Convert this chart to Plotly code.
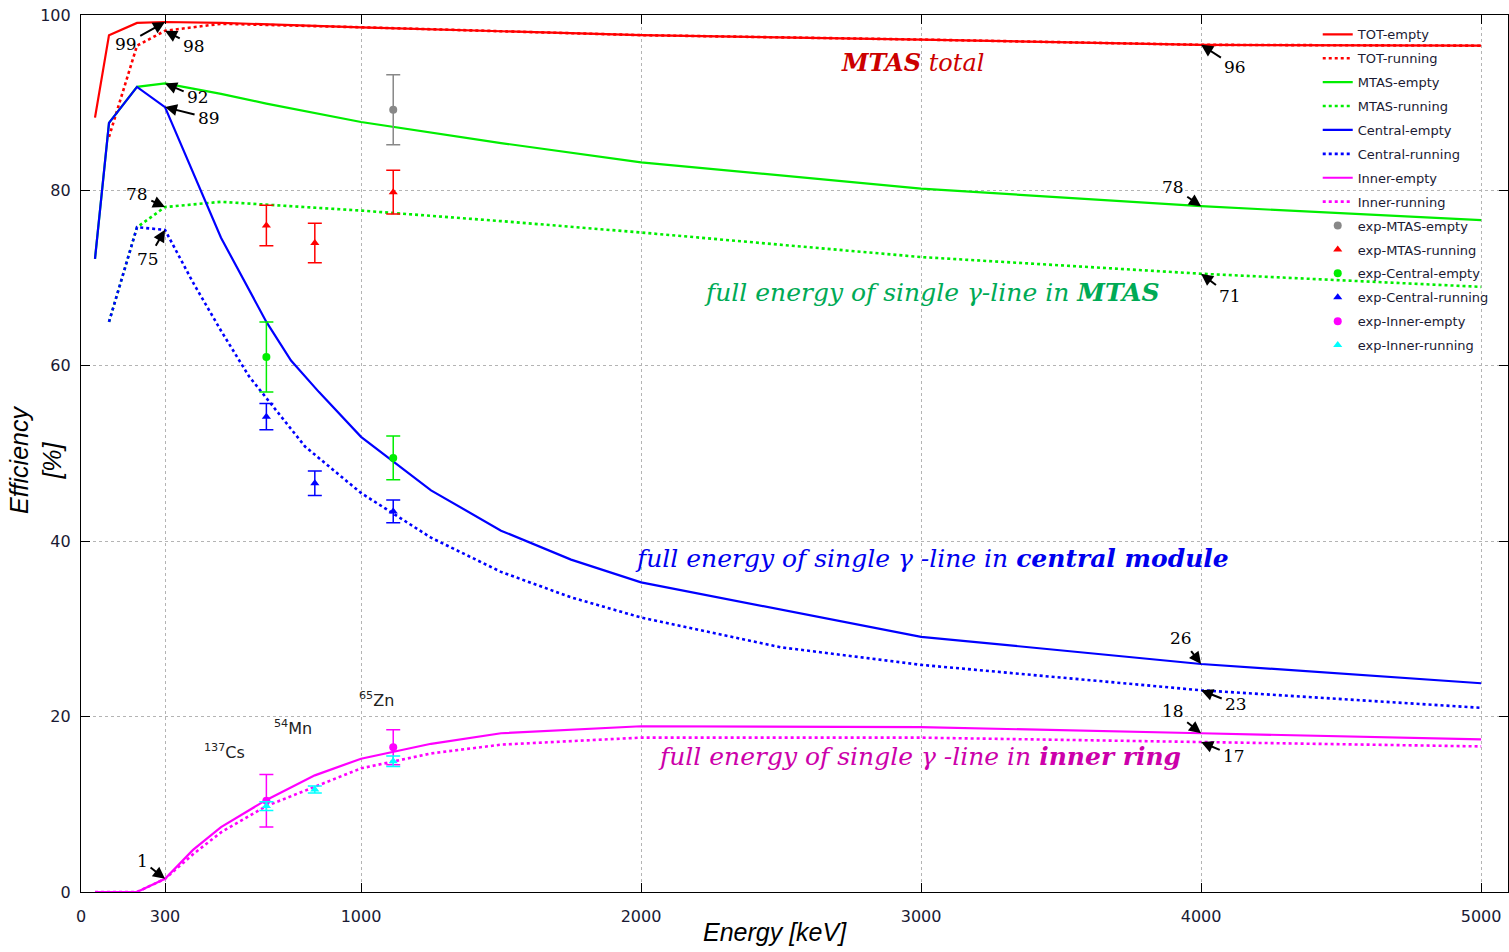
import plotly.graph_objects as go

# ---------------- data ----------------
E_TOT_EMPTY = [50, 100, 200, 300, 500, 1000, 2000, 3000, 4000, 5000]
TOT_EMPTY = [88.3, 97.7, 99.1, 99.2, 99.1, 98.6, 97.7, 97.2, 96.6, 96.5]
E_TOT_RUN = [100, 200, 300, 500, 1000, 2000, 3000, 4000, 5000]
TOT_RUN = [86.1, 96.5, 98.2, 99.0, 98.6, 97.7, 97.2, 96.6, 96.5]

E_MTAS_EMPTY = [50, 100, 200, 300, 500, 662, 1000, 1500, 2000, 3000, 4000, 5000]
MTAS_EMPTY = [72.2, 87.7, 91.8, 92.2, 91.0, 89.9, 87.8, 85.4, 83.2, 80.2, 78.2, 76.6]
E_MTAS_RUN = [100, 200, 300, 500, 1000, 1500, 2000, 3000, 4000, 5000]
MTAS_RUN = [65.0, 75.8, 78.1, 78.7, 77.7, 76.5, 75.2, 72.4, 70.5, 69.0]

E_CEN_EMPTY = [50, 100, 200, 300, 500, 662, 750, 850, 1000, 1250, 1500, 1750, 2000, 3000, 4000, 5000]
CEN_EMPTY = [72.2, 87.7, 91.8, 89.5, 74.6, 65.0, 60.6, 57.0, 51.9, 45.8, 41.2, 37.9, 35.3, 29.1, 26.0, 23.8]
E_CEN_RUN = [100, 200, 300, 400, 500, 600, 700, 800, 1000, 1250, 1500, 1750, 2000, 2500, 3000, 4000, 5000]
CEN_RUN = [65.0, 75.8, 75.5, 69.5, 64.0, 58.8, 54.8, 50.8, 45.5, 40.4, 36.5, 33.6, 31.3, 27.9, 25.9, 23.0, 21.0]

E_INN = [50, 100, 200, 300, 400, 500, 662, 835, 1000, 1250, 1500, 2000, 3000, 4000, 5000]
INN_EMPTY = [0, 0, 0, 1.5, 4.8, 7.4, 10.5, 13.3, 15.2, 16.9, 18.1, 18.9, 18.8, 18.1, 17.4]
INN_RUN = [0, 0, 0, 1.5, 4.3, 6.8, 9.8, 12.0, 14.1, 15.8, 16.8, 17.6, 17.6, 17.1, 16.6]

# experimental points
EXP_E_MTAS_EMPTY = [1115]
EXP_MTAS_EMPTY = [89.2]
EXP_MTAS_EMPTY_ERR = [4.0]
EXP_E_MTAS_RUN = [662, 835, 1115]
EXP_MTAS_RUN = [76.0, 74.0, 79.8]
EXP_MTAS_RUN_ERR = [2.3, 2.25, 2.5]
EXP_E_CEN_EMPTY = [662, 1115]
EXP_CEN_EMPTY = [61.0, 49.5]
EXP_CEN_EMPTY_ERR = [4.0, 2.5]
EXP_E_CEN_RUN = [662, 835, 1115]
EXP_CEN_RUN = [54.2, 46.6, 43.4]
EXP_CEN_RUN_ERR = [1.5, 1.4, 1.3]
EXP_E_INN_EMPTY = [662, 1115]
EXP_INN_EMPTY = [10.4, 16.5]
EXP_INN_EMPTY_ERR = [3.0, 2.0]
EXP_E_INN_RUN = [662, 835, 1115]
EXP_INN_RUN = [9.8, 11.7, 14.9]
EXP_INN_RUN_ERR = [0.5, 0.4, 0.6]

X_TICKS = [0, 300, 1000, 2000, 3000, 4000, 5000]
Y_TICKS = [0, 20, 40, 60, 80, 100]

# ---------------- figure ----------------
fig = go.Figure()

RED, GREEN, BLUE, MAG = "#ff0000", "#00ee00", "#0000ff", "#ff00ff"

def line(x, y, name, color, dotted):
    fig.add_trace(go.Scatter(
        x=x, y=y, name=name, mode="lines", legendgroup=name,
        line=dict(color=color, width=2.2 if not dotted else 2.6,
                  dash="dot" if dotted else "solid")))

line(E_TOT_EMPTY, TOT_EMPTY, "TOT-empty", RED, False)
line(E_TOT_RUN, TOT_RUN, "TOT-running", RED, True)
line(E_MTAS_EMPTY, MTAS_EMPTY, "MTAS-empty", GREEN, False)
line(E_MTAS_RUN, MTAS_RUN, "MTAS-running", GREEN, True)
line(E_CEN_EMPTY, CEN_EMPTY, "Central-empty", BLUE, False)
line(E_CEN_RUN, CEN_RUN, "Central-running", BLUE, True)
line(E_INN, INN_EMPTY, "Inner-empty", MAG, False)
line(E_INN, INN_RUN, "Inner-running", MAG, True)

def exp(x, y, err, name, color, symbol):
    fig.add_trace(go.Scatter(
        x=x, y=y, name=name, mode="markers", legendgroup=name,
        marker=dict(color=color, symbol=symbol, size=8),
        error_y=dict(type="data", array=err, visible=True, color=color,
                     thickness=1.5, width=7)))

exp(EXP_E_MTAS_EMPTY, EXP_MTAS_EMPTY, EXP_MTAS_EMPTY_ERR, "exp-MTAS-empty", "#888888", "circle")
exp(EXP_E_MTAS_RUN, EXP_MTAS_RUN, EXP_MTAS_RUN_ERR, "exp-MTAS-running", "#ff0000", "triangle-up")
exp(EXP_E_CEN_EMPTY, EXP_CEN_EMPTY, EXP_CEN_EMPTY_ERR, "exp-Central-empty", "#00ee00", "circle")
exp(EXP_E_CEN_RUN, EXP_CEN_RUN, EXP_CEN_RUN_ERR, "exp-Central-running", "#0000ff", "triangle-up")
exp(EXP_E_INN_EMPTY, EXP_INN_EMPTY, EXP_INN_EMPTY_ERR, "exp-Inner-empty", "#ff00ff", "circle")
exp(EXP_E_INN_RUN, EXP_INN_RUN, EXP_INN_RUN_ERR, "exp-Inner-running", "#00ffff", "triangle-up")

# ---------------- annotations ----------------
ann = []
SERIF = "DejaVu Serif"

def arrow(x, y, label, ax, ay):
    ann.append(dict(x=x, y=y, xref="x", yref="y", text=label, showarrow=True,
                    ax=ax, ay=ay, arrowhead=2, arrowsize=1.2, arrowwidth=2,
                    arrowcolor="black", standoff=0, startstandoff=2,
                    font=dict(family=SERIF, size=17, color="black")))

arrow(300, TOT_EMPTY[3], "99", -39, 22)
arrow(300, TOT_RUN[2], "98", 29, 15)
arrow(300, MTAS_EMPTY[3], "92", 33, 14)
arrow(300, CEN_EMPTY[3], "89", 44, 11)
arrow(300, MTAS_RUN[2], "78", -28, -13)
arrow(300, CEN_RUN[2], "75", -17, 29)
arrow(4000, TOT_EMPTY[8], "96", 34, 22)
arrow(4000, MTAS_EMPTY[10], "78", -28, -19)
arrow(4000, MTAS_RUN[8], "71", 29, 22)
arrow(4000, CEN_EMPTY[14], "26", -20, -26)
arrow(4000, CEN_RUN[15], "23", 35, 14)
arrow(4000, INN_EMPTY[13], "18", -28, -22)
arrow(4000, INN_RUN[13], "17", 33, 14)
arrow(300, INN_EMPTY[3], "1", -23, -18)

def label(x, y, text, color, size=25):
    ann.append(dict(x=x, y=y, xref="x", yref="y", text=text, showarrow=False,
                    font=dict(family=SERIF, size=size, color=color, style="italic")))

label(2968, 94.6, "<b>MTAS</b> total", "#cc0000", 24)
label(3039, 68.4, "full energy of single γ-line in <b>MTAS</b>", "#00aa55", 25)
label(3039, 38.0, "full energy of single γ -line in <b>central module</b>", "#0000ee", 25)
label(2996, 15.4, "full energy of single γ -line in <b>inner ring</b>", "#cc00aa", 25)

for x, y, t in [(514, 16.0, "<sup>137</sup>Cs"), (757, 18.8, "<sup>54</sup>Mn"), (1057, 21.9, "<sup>65</sup>Zn")]:
    ann.append(dict(x=x, y=y, xref="x", yref="y", text=t, showarrow=False,
                    font=dict(family="DejaVu Sans", size=16, color="#222222")))

# axis titles
ann.append(dict(x=(775 - 81) / 1427, y=-(932 - 892) / 877, xref="paper", yref="paper",
                yanchor="middle", text="Energy [keV]", showarrow=False,
                font=dict(family="Liberation Sans", size=25, color="black", style="italic")))
ann.append(dict(x=(36 - 81) / 1427, y=(892 - 460) / 877, xref="paper", yref="paper",
                xanchor="center", yanchor="middle",
                text="Efficiency<br>[%]", showarrow=False, textangle=-90,
                font=dict(family="Liberation Sans", size=25, color="black", style="italic")))

# white legend backdrop hiding gridlines (traces stay on top)
shapes = [dict(type="rect", xref="paper", yref="y", x0=(1233 - 81) / 1427, x1=1, y0=62, y1=100,
               fillcolor="white", line=dict(width=0), layer="between")]

axis_common = dict(showline=True, linecolor="black", linewidth=1.2, mirror="ticks",
                   ticks="inside", ticklen=9, tickcolor="black",
                   showgrid=True, gridcolor="#b4b4b4", griddash="dot", gridwidth=1,
                   zeroline=False,
                   tickfont=dict(family="DejaVu Sans", size=16, color="#1a1a33"))

fig.update_layout(
    width=1509, height=952,
    margin=dict(l=81, r=1, t=15, b=60),
    paper_bgcolor="white", plot_bgcolor="white",
    xaxis=dict(range=[0, 5096], tickvals=X_TICKS, ticktext=[str(v) for v in X_TICKS],
               ticklabelstandoff=10, **axis_common),
    yaxis=dict(range=[0, 100], tickvals=Y_TICKS, ticklabelstandoff=6, **axis_common),
    legend=dict(x=0.99, xanchor="right", y=0.995, yanchor="top",
                bgcolor="rgba(255,255,255,0)", tracegroupgap=4,
                font=dict(family="DejaVu Sans", size=13, color="#1a1a33")),
    annotations=ann,
    shapes=shapes,
)

fig.write_html("out.html", config={"displayModeBar": False},
               post_script="document.body.style.margin='0';")
